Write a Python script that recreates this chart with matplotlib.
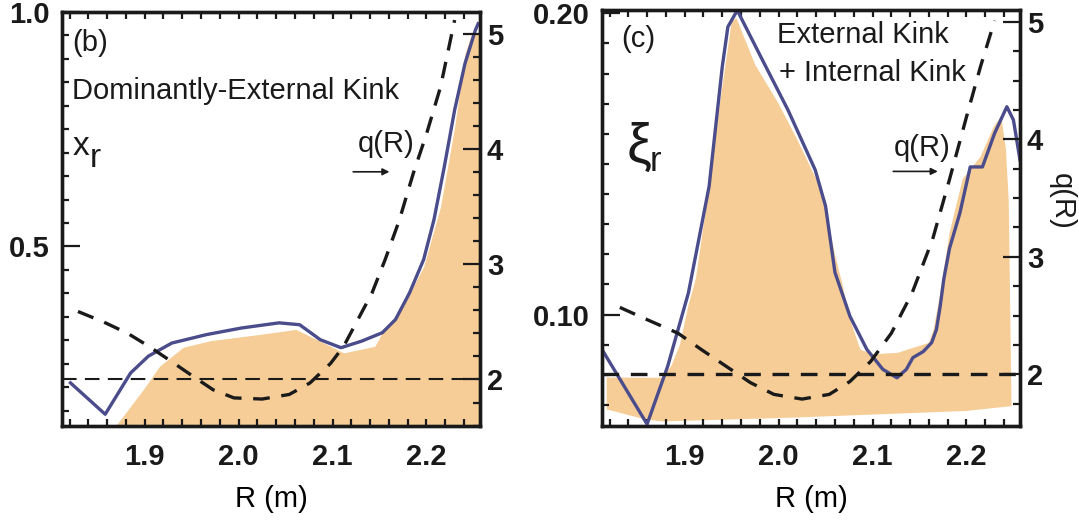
import numpy as np
import matplotlib
matplotlib.use("Agg")
import matplotlib.pyplot as plt
from matplotlib.ticker import MultipleLocator

plt.rcParams['font.family'] = ['Liberation Sans', 'DejaVu Sans']

# ---- panel (b): dominantly-external kink ----
R_xi_b = [1.821, 1.858, 1.885, 1.904, 1.929, 1.966, 2.003, 2.043, 2.065, 2.087,
          2.109, 2.131, 2.153, 2.167, 2.182, 2.197, 2.208, 2.219, 2.230, 2.241,
          2.252, 2.255]
xi_b = [0.209, 0.142, 0.230, 0.266, 0.294, 0.312, 0.326, 0.337, 0.333, 0.301,
        0.284, 0.298, 0.316, 0.344, 0.401, 0.472, 0.557, 0.670, 0.791, 0.890,
        0.961, 0.975]

R_fill_b = [1.869, 1.899, 1.916, 1.941, 1.970, 2.021, 2.061, 2.098, 2.112, 2.145,
            2.153, 2.175, 2.197, 2.215, 2.230, 2.241, 2.248, 2.257]
fill_b = [0.117, 0.196, 0.245, 0.285, 0.299, 0.312, 0.323, 0.287, 0.273, 0.287,
          0.316, 0.372, 0.457, 0.585, 0.755, 0.911, 0.954, 0.957]

R_q_b = [1.829, 1.856, 1.882, 1.904, 1.926, 1.951, 1.973, 1.995, 2.025, 2.054,
         2.076, 2.098, 2.112, 2.127, 2.142, 2.156, 2.171, 2.186, 2.200, 2.215,
         2.230]
q_b = [2.59, 2.50, 2.40, 2.29, 2.17, 2.03, 1.91, 1.84, 1.83, 1.87,
       1.97, 2.14, 2.29, 2.52, 2.75, 3.04, 3.38, 3.79, 4.13, 4.54,
       5.12]

# ---- panel (c): external + internal kink ----
R_xi_c = [1.812, 1.860, 1.882, 1.904, 1.926, 1.940, 1.946, 1.956, 1.981, 2.010,
          2.039, 2.050, 2.060, 2.076, 2.094, 2.111, 2.126, 2.136, 2.143, 2.154,
          2.163, 2.168, 2.172, 2.176, 2.182, 2.193, 2.204, 2.217, 2.230, 2.243,
          2.250, 2.257]
xi_c = [0.0884, 0.0636, 0.0829, 0.1072, 0.1425, 0.1822, 0.1955, 0.2010, 0.1856, 0.1679,
        0.1480, 0.1360, 0.1140, 0.0994, 0.0884, 0.0818, 0.0790, 0.0818, 0.0857, 0.0877,
        0.0907, 0.0950, 0.1027, 0.1120, 0.1220, 0.1337, 0.1490, 0.1490, 0.1602, 0.1690,
        0.1646, 0.1513]

R_fill_c_top = [1.817, 1.876, 1.886, 1.895, 1.904, 1.912, 1.925, 1.938, 1.950, 1.955,
                1.975, 2.000, 2.020, 2.040, 2.050, 2.060, 2.068, 2.076, 2.087, 2.100,
                2.127, 2.149, 2.160, 2.165, 2.171, 2.182, 2.196, 2.215, 2.229, 2.237,
                2.242, 2.245, 2.248]
fill_c_top = [0.0791, 0.0790, 0.0830, 0.0900, 0.1030, 0.1120, 0.1400, 0.1710, 0.1970, 0.1985,
              0.1830, 0.1700, 0.1580, 0.1450, 0.1350, 0.1200, 0.1100, 0.0984, 0.0884, 0.0868,
              0.0873, 0.0895, 0.0906, 0.0950, 0.1050, 0.1270, 0.1450, 0.1524, 0.1623, 0.1657,
              0.1550, 0.1380, 0.0696]
R_fill_c_bot = [1.817, 1.858, 1.876, 2.017, 2.100, 2.200, 2.248]
fill_c_bot = [0.0685, 0.0652, 0.0645, 0.0658, 0.0668, 0.0680, 0.0696]

R_q_c = [1.831, 1.856, 1.893, 1.918, 1.944, 1.970, 1.995, 2.025, 2.054, 2.076,
         2.098, 2.120, 2.142, 2.164, 2.182, 2.200, 2.215, 2.230]
q_c = [2.57, 2.48, 2.35, 2.21, 2.07, 1.93, 1.83, 1.79, 1.83, 1.94,
       2.11, 2.35, 2.69, 3.15, 3.66, 4.19, 4.62, 5.01]

x_ticks = [1.9, 2.0, 2.1, 2.2]
x_ticklabels = ['1.9', '2.0', '2.1', '2.2']
q_ticks = [2, 3, 4, 5]

FILL = '#F6CD97'
BLUE = '#4A4C8C'
INK = '#1a1a1a'
FS = 21

fig = plt.figure(figsize=(10.79, 5.22), dpi=100)
axb = fig.add_axes([62/1079, 96/522, 418/1079, 414/522])
axc = fig.add_axes([602/1079, 96/522, 418/1079, 416/522])


def style(ax, qax, ylim, qlim, yticks, ylabels, yminor, qminor):
    ax.set_xlim(1.812, 2.257)
    ax.set_ylim(*ylim)
    qax.set_ylim(*qlim)
    ax.set_xticks(x_ticks)
    ax.set_xticklabels(x_ticklabels, fontsize=FS, fontweight='bold')
    ax.xaxis.set_minor_locator(MultipleLocator(0.02))
    ax.set_yticks(yticks)
    ax.set_yticklabels(ylabels, fontsize=FS, fontweight='bold')
    ax.yaxis.set_minor_locator(MultipleLocator(yminor))
    qax.set_yticks(q_ticks)
    qax.set_yticklabels([str(v) for v in q_ticks], fontsize=FS, fontweight='bold')
    qax.yaxis.set_minor_locator(MultipleLocator(qminor))
    ax.tick_params(axis='x', which='both', direction='in', top=True, bottom=True,
                   length=5, width=1.6, pad=12, colors=INK)
    ax.tick_params(axis='y', which='major', direction='in', left=True, right=False,
                   length=13, width=1.6, pad=9, colors=INK)
    ax.tick_params(axis='y', which='minor', direction='in', left=True, right=False,
                   length=5, width=1.6, colors=INK)
    qax.tick_params(axis='y', which='major', direction='in', length=12, width=1.6,
                    pad=5, colors=INK)
    qax.tick_params(axis='y', which='minor', direction='in', length=5, width=1.6,
                    colors=INK)
    for a in (ax, qax):
        for s in a.spines.values():
            s.set_linewidth(2.4)
            s.set_color(INK)
    ax.set_xlabel('R (m)', fontsize=FS, labelpad=10)


# panel (b)
qb = axb.twinx()
axb.fill_between(R_fill_b, 0, fill_b, color=FILL, lw=0, zorder=1)
axb.plot(R_xi_b, xi_b, color=BLUE, lw=2.4, zorder=3)
qb.plot(R_q_b, q_b, color=INK, lw=2.4, dashes=(5, 3.5))
qb.axhline(2, color=INK, lw=1.5, dashes=(7, 4))
style(axb, qb, (0.117, 1.0), (1.596, 5.19), [0.5, 1.0], ['0.5', '1.0'], 0.05, 0.2)
axb.text(0.025, 0.925, '(b)', transform=axb.transAxes, fontsize=FS, va='center', color=INK)
axb.text(0.025, 0.81, 'Dominantly-External Kink', transform=axb.transAxes, fontsize=FS,
         va='center', color=INK)
axb.text(0.025, 0.675, 'x', transform=axb.transAxes, fontsize=FS + 3, va='center', color=INK)
axb.text(0.066, 0.645, 'r', transform=axb.transAxes, fontsize=FS + 3, va='center', color=INK)
axb.text(0.775, 0.68, 'q(R)', transform=axb.transAxes, fontsize=FS, ha='center',
         va='center', color=INK)
axb.annotate('', xy=(0.79, 0.614), xytext=(0.69, 0.614), xycoords='axes fraction',
             arrowprops=dict(arrowstyle='-|>', color=INK, lw=1.2, mutation_scale=10))

# panel (c)
qc = axc.twinx()
axc.fill(R_fill_c_top + R_fill_c_bot[::-1], fill_c_top + fill_c_bot[::-1],
         color=FILL, lw=0, zorder=1)
axc.plot(R_xi_c, xi_c, color=BLUE, lw=2.4, zorder=3)
qc.plot(R_q_c, q_c, color=INK, lw=2.4, dashes=(5, 3.5))
qc.axhline(2, color=INK, lw=2.4, dashes=(5, 3.5))
style(axc, qc, (0.063, 0.2011), (1.561, 5.10), [0.10, 0.20], ['0.10', '0.20'], 0.01, 0.25)
axc.text(0.045, 0.93, '(c)', transform=axc.transAxes, fontsize=FS, va='center', color=INK)
axc.text(0.623, 0.94, 'External Kink', transform=axc.transAxes, fontsize=FS,
         ha='center', va='center', color=INK)
axc.text(0.646, 0.849, '+ Internal Kink', transform=axc.transAxes, fontsize=FS,
         ha='center', va='center', color=INK)
axc.text(0.058, 0.668, 'ξ', transform=axc.transAxes, fontsize=40, va='center', color=INK)
axc.text(0.115, 0.635, 'r', transform=axc.transAxes, fontsize=FS + 4, va='center', color=INK)
axc.text(0.765, 0.668, 'q(R)', transform=axc.transAxes, fontsize=FS, ha='center',
         va='center', color=INK)
axc.annotate('', xy=(0.81, 0.612), xytext=(0.69, 0.612), xycoords='axes fraction',
             arrowprops=dict(arrowstyle='-|>', color=INK, lw=1.2, mutation_scale=10))
axc.text(1.10, 0.54, 'q(R)', transform=axc.transAxes, fontsize=FS, rotation=270,
         ha='center', va='center', color=INK)

fig.savefig('out.png', dpi=100)
